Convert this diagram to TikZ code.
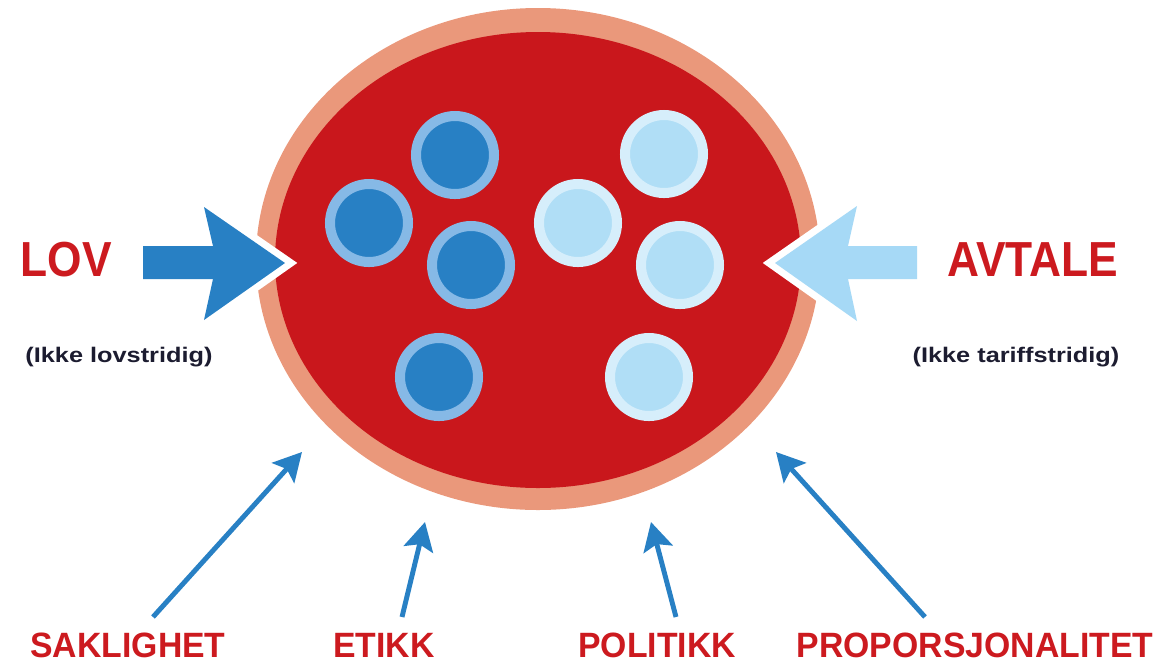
\documentclass[tikz,border=0pt]{standalone}
\usepackage{fontspec}
\usepackage{graphicx}
\setmainfont{Liberation Sans}
\usetikzlibrary{arrows.meta}
\definecolor{cellred}{HTML}{C9171C}
\definecolor{rimred}{HTML}{EA987B}
\definecolor{lawblue}{HTML}{2880C4}
\definecolor{lawring}{HTML}{86B9E6}
\definecolor{dealblue}{HTML}{B0DEF6}
\definecolor{dealring}{HTML}{D6EEFB}
\definecolor{dealarrow}{HTML}{A6D9F6}
\definecolor{textred}{HTML}{CC1A1F}
\definecolor{textdark}{HTML}{1C1C30}
\begin{document}
\begin{tikzpicture}[x=0.01cm,y=-0.01cm]
\tikzset{
    rim/.style={fill=rimred},
    core/.style={fill=cellred},
    lawcell/.style={draw=lawring, fill=lawblue, line width=2.85pt},
    dealcell/.style={draw=dealring, fill=dealblue, line width=2.85pt},
    bigarrow/.style={fill=#1, preaction={draw=white, fill=white, line width=4pt, line join=miter}},
    big label/.style={text=textred, font=\bfseries\fontsize{14pt}{14pt}\selectfont},
    small label/.style={text=textdark, font=\bfseries\fontsize{6pt}{6pt}\selectfont},
    foot label/.style={text=textred, font=\bfseries\fontsize{10pt}{10pt}\selectfont},
    push/.style={draw=lawblue, line width=1.4pt, -{Stealth[length=8pt, width=8.5pt, inset=1.5pt]}}}
\def\rcell{39}

\useasboundingbox (0,0) rectangle (1166,666);

% the cell
\fill[rim] (538,259) ellipse (282 and 251);
\fill[core] (538,260) ellipse (263 and 228);

\draw[lawcell] (455,155) circle(\rcell);
\draw[lawcell] (369,223) circle(\rcell);
\draw[lawcell] (471,265) circle(\rcell);
\draw[lawcell] (439,377) circle(\rcell);

\draw[dealcell] (664,154) circle(\rcell);
\draw[dealcell] (578,223) circle(\rcell);
\draw[dealcell] (680,265) circle(\rcell);
\draw[dealcell] (649,377) circle(\rcell);

% side arrows
\path[bigarrow=lawblue] (143,246) -- (213,246) -- (204,207) -- (285,263)
    -- (204,320) -- (213,279) -- (143,279) -- cycle;
\path[bigarrow=dealarrow] (917,246) -- (848,246) -- (857,206) -- (775,263)
    -- (857,321) -- (848,279) -- (917,279) -- cycle;

\node[big label] (lov) at (66,260) {\scalebox{0.9}[1]{LOV}};
\node[big label] (avtale) at (1033,260) {\scalebox{0.9}[1]{AVTALE}};
\node[small label] (lovnote) at (119,357) {\scalebox{1.2}[1]{(Ikke lovstridig)}};
\node[small label] (avtalenote) at (1016,357) {\scalebox{1.2}[1]{(Ikke tariffstridig)}};

% bottom labels
\node[foot label] (sak) at (128,645) {\scalebox{0.96}[1]{SAKLIGHET}};
\node[foot label] (etikk) at (384,645) {\scalebox{0.96}[1]{ETIKK}};
\node[foot label] (pol) at (657,645) {\scalebox{0.96}[1]{POLITIKK}};
\node[foot label] (prop) at (975,645) {\scalebox{0.96}[1]{PROPORSJONALITET}};

\coordinate (sakfrom) at (153,617);
\coordinate (saktip) at (302,452);
\coordinate (etikkfrom) at (402,617);
\coordinate (etikktip) at (425,522);
\coordinate (polfrom) at (676,617);
\coordinate (poltip) at (651,522);
\coordinate (propfrom) at (925,617);
\coordinate (proptip) at (776,452);

\draw[push] (sakfrom) -- (saktip);
\draw[push] (etikkfrom) -- (etikktip);
\draw[push] (polfrom) -- (poltip);
\draw[push] (propfrom) -- (proptip);

\end{tikzpicture}
\end{document}
